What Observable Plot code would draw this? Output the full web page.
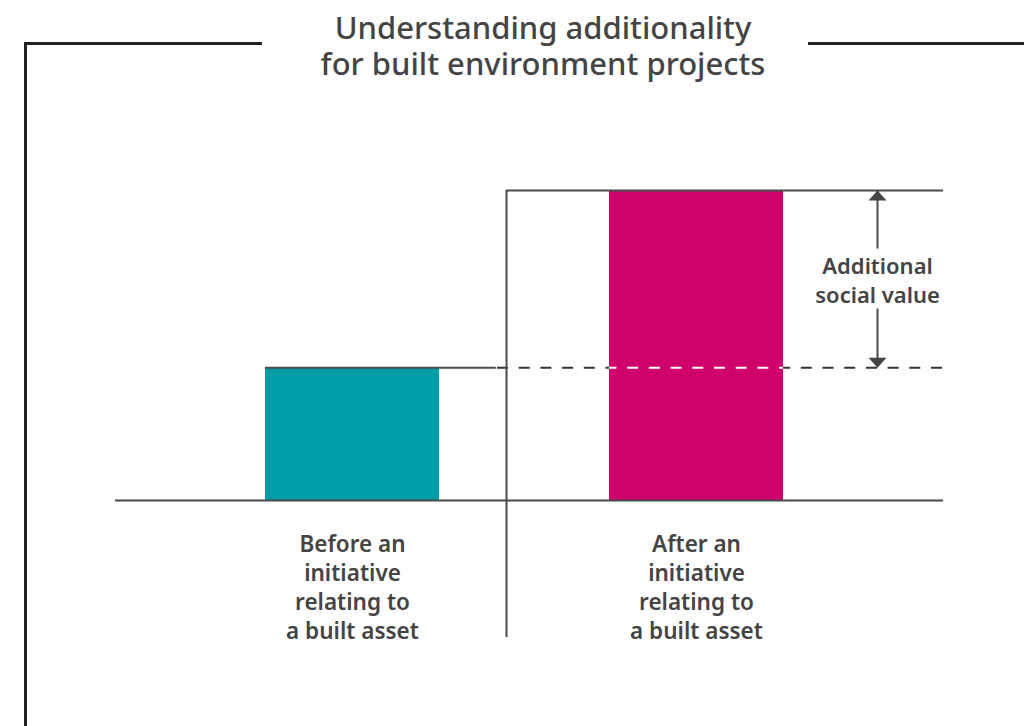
<!DOCTYPE html>
<html>
<head>
<meta charset="utf-8">
<script src="https://cdn.jsdelivr.net/npm/d3@7"></script>
<script src="https://cdn.jsdelivr.net/npm/@observablehq/plot@0.6"></script>
<style>
  html, body { margin: 0; padding: 0; background: #fff; }
  #wrap { position: relative; width: 1024px; height: 726px; overflow: hidden; font-family: "Noto Sans", sans-serif; }
  #chart { position: absolute; left: 0; top: 0; }
  .frame { position: absolute; background: #222; }
  .tline { position: absolute; left: 543px; transform: translateX(-50%); text-align: center;
           font-size: 31px; font-weight: 500; line-height: 31px; height: 31px; color: #444; white-space: nowrap; }
</style>
</head>
<body>
<div id="wrap">
  <div id="chart"></div>
  <div class="frame" style="left:24px; top:42px; width:3px; height:684px;"></div>
  <div class="frame" style="left:24px; top:42px; width:238px; height:3px;"></div>
  <div class="frame" style="left:808px; top:42px; width:216px; height:3px;"></div>
  <div id="title"></div>
</div>
<script>
// ---- data ----
const titleLines = ["Understanding additionality", "for built environment projects"];
const categories = ["Before an\ninitiative\nrelating to\na built asset", "After an\ninitiative\nrelating to\na built asset"];
const values = [3, 7];
const barColors = ["#009CA8", "#CF006C"];
const annotation = "Additional\nsocial value";

// ---- layout (scale units: category index on x, value on y) ----
const catPos = [0, 1];
const barHalf = 0.253;
const dividerX = 0.4477;
const baseStart = -0.689;
const chartEnd = 1.718;
const arrowX = 1.5262;
const solidEnd = 0.418;
const dashStart = 0.4215;
const dividerBottom = -3.094;
const ink = "#4a4a4a";

const titleEl = document.getElementById("title");
titleLines.forEach((t, i) => {
  const d = document.createElement("div");
  d.className = "tline";
  d.style.top = (12 + i * 36) + "px";
  d.textContent = t;
  titleEl.appendChild(d);
});

const bars = categories.map((c, i) => ({label: c, value: values[i], pos: catPos[i], color: barColors[i]}));
const before = values[0], after = values[1];
const mid = (before + after) / 2;

const headUp = {draw(ctx) { ctx.moveTo(0, 0); ctx.lineTo(9, 10); ctx.lineTo(-9, 10); ctx.closePath(); }};
const headDown = {draw(ctx) { ctx.moveTo(0, 0); ctx.lineTo(-9, -10); ctx.lineTo(9, -10); ctx.closePath(); }};

const chart = Plot.plot({
  width: 1024,
  height: 726,
  marginTop: 0, marginBottom: 0, marginLeft: 0, marginRight: 0,
  x: {domain: [-352 / 344, 672 / 344], range: [0, 1024], axis: null},
  y: {domain: [-5.1032, 11.290], range: [726, 0], axis: null},
  style: {fontFamily: "'Noto Sans', sans-serif", background: "white"},
  marks: [
    // dashed reference line (before level) across the "after" side
    Plot.ruleY([before], {x1: dashStart, x2: chartEnd, stroke: "#333", strokeWidth: 2, strokeDasharray: "11,10.7"}),
    // bars
    Plot.rectY(bars, {x1: d => d.pos - barHalf, x2: d => d.pos + barHalf, y1: 0, y2: "value", fill: "color"}),
    // white dashes over the after bar
    Plot.ruleY([before], {x1: catPos[1] - barHalf, x2: catPos[1] + barHalf, stroke: "white", strokeWidth: 2,
      strokeDasharray: "11,10.7", strokeDashoffset: 3.5}),
    // solid before level line
    Plot.ruleY([before], {x1: catPos[0] - barHalf, x2: solidEnd, stroke: ink, strokeWidth: 2}),
    // after level line
    Plot.ruleY([after], {x1: dividerX, x2: chartEnd, stroke: ink, strokeWidth: 2}),
    // baseline
    Plot.ruleY([0], {x1: baseStart, x2: chartEnd, stroke: ink, strokeWidth: 2}),
    // divider
    Plot.ruleX([dividerX], {y1: dividerBottom, y2: after, stroke: ink, strokeWidth: 2}),
    // double arrow
    Plot.ruleX([arrowX], {y1: after, y2: mid, insetBottom: 30, stroke: ink, strokeWidth: 2}),
    Plot.ruleX([arrowX], {y1: mid, y2: before, insetTop: 30, stroke: ink, strokeWidth: 2}),
    Plot.dot([after], {x: arrowX, y: d => d, symbol: headUp, fill: "#444", stroke: null}),
    Plot.dot([before], {x: arrowX, y: d => d, symbol: headDown, fill: "#444", stroke: null}),
    Plot.text([annotation], {x: arrowX, y: mid, dy: 0, text: d => d, lineAnchor: "middle", lineHeight: 1.3,
      fontSize: 22, fontWeight: 600, fill: "#444"}),
    // category labels
    Plot.text(bars, {x: "pos", y: 0, dy: 31, text: "label", lineAnchor: "top", lineHeight: 1.29,
      fontSize: 22.5, fontWeight: 600, fill: "#444"})
  ]
});
document.getElementById("chart").appendChild(chart);
</script>
</body>
</html>
